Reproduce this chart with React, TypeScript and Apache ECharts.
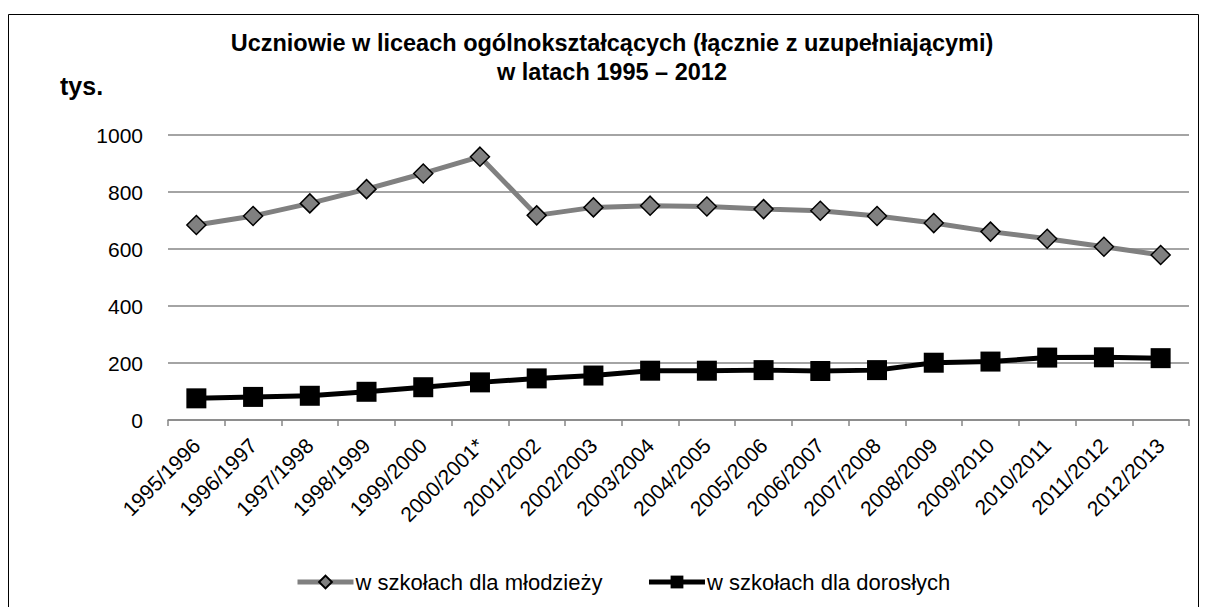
import React, { useEffect, useRef } from "react";
import * as echarts from "echarts";

const categories = [
  "1995/1996", "1996/1997", "1997/1998", "1998/1999", "1999/2000", "2000/2001*",
  "2001/2002", "2002/2003", "2003/2004", "2004/2005", "2005/2006", "2006/2007",
  "2007/2008", "2008/2009", "2009/2010", "2010/2011", "2011/2012", "2012/2013",
];
const youthValues = [684, 716, 760, 810, 865, 924, 718, 746, 752, 749, 740, 734, 716, 691, 661, 636, 608, 579];
const adultValues = [76, 81, 85, 99, 115, 132, 146, 156, 173, 173, 175, 172, 175, 201, 205, 219, 220, 217];
const seriesNames = ["w szkołach dla młodzieży", "w szkołach dla dorosłych"];
const titleText = "Uczniowie w liceach ogólnokształcących (łącznie z uzupełniającymi)\nw latach 1995 – 2012";
const unitText = "tys.";

const FONT = "'Liberation Sans', Arial, sans-serif";

export default function App() {
  const ref = useRef<HTMLDivElement>(null);
  useEffect(() => {
    if (!ref.current) return;
    const chart = echarts.init(ref.current, undefined, { renderer: "svg" });
    chart.setOption({
      animation: false,
      backgroundColor: "#ffffff",
      textStyle: { fontFamily: FONT },
      title: {
        text: titleText,
        left: 612,
        textAlign: "center",
        top: 28,
        padding: 0,
        textStyle: { fontFamily: FONT, fontSize: 23.5, fontWeight: "bold", color: "#000", lineHeight: 29 },
      },
      graphic: [
        {
          type: "rect",
          shape: { x: 8.5, y: 14.5, width: 1190, height: 600 },
          style: { fill: "none", stroke: "#000", lineWidth: 1 },
          silent: true,
        },
        {
          type: "text",
          left: 60,
          top: 73,
          style: { text: unitText, font: `bold 25px ${FONT}`, fill: "#000" },
        },
      ],
      grid: { left: 168, right: 17, top: 135, bottom: 187, containLabel: false },
      legend: {
        top: 566,
        left: 290,
        itemWidth: 56,
        itemHeight: 16,
        itemGap: 44,
        lineStyle: { width: 5 },
        textStyle: { fontFamily: FONT, fontSize: 22, color: "#000", padding: [0, 0, 0, -3] },
        data: seriesNames,
      },
      xAxis: {
        type: "category",
        data: categories,
        boundaryGap: true,
        axisLine: { lineStyle: { color: "#868686", width: 1.5 } },
        axisTick: { show: true, length: 6, lineStyle: { color: "#868686", width: 1.5 } },
        axisLabel: {
          rotate: 45,
          interval: 0,
          fontFamily: FONT,
          fontSize: 21,
          color: "#000",
          margin: 22,
        },
      },
      yAxis: {
        type: "value",
        min: 0,
        max: 1000,
        interval: 200,
        axisLine: { show: false },
        axisTick: { show: false },
        axisLabel: { fontFamily: FONT, fontSize: 21, color: "#000", margin: 25, formatter: (v: number) => String(v) },
        splitLine: { lineStyle: { color: "#868686", width: 1.5 } },
      },
      series: [
        {
          name: seriesNames[0],
          type: "line",
          data: youthValues,
          symbol: "diamond",
          symbolSize: 19,
          lineStyle: { color: "#808080", width: 5 },
          itemStyle: { color: "#808080", borderColor: "#000", borderWidth: 1.5 },
        },
        {
          name: seriesNames[1],
          type: "line",
          data: adultValues,
          symbol: "rect",
          symbolSize: 20,
          lineStyle: { color: "#000", width: 5 },
          itemStyle: { color: "#000", borderColor: "#000", borderWidth: 0 },
        },
      ],
    });
    return () => chart.dispose();
  }, []);
  return (
    <div
      ref={ref}
      style={{ position: "fixed", left: 0, top: 0, width: 1206, height: 607 }}
    />
  );
}
